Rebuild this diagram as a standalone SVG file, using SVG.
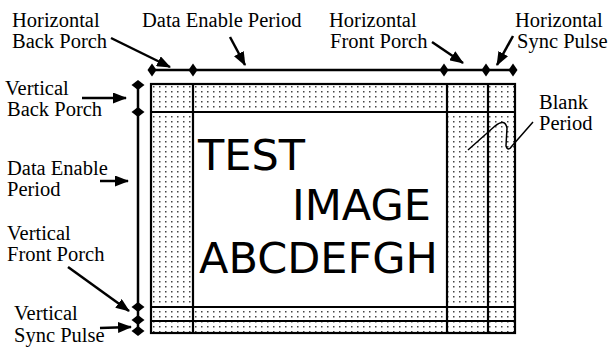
<svg xmlns="http://www.w3.org/2000/svg" width="612" height="347" viewBox="0 0 612 347">
<style>
.lbl{font-family:"Liberation Serif","Times New Roman",serif;font-size:20.5px;fill:#000}
.big{font-family:"DejaVu Sans",Verdana,sans-serif;font-size:43px;fill:#000}
.frame{fill:none;stroke:#000;stroke-width:2.2}
.conn{fill:none;stroke:#000;stroke-width:2.5}
.dim{fill:none;stroke:#000;stroke-width:2.5}
</style>
<defs>
<pattern id="dots" x="151" y="84" width="6" height="5" patternUnits="userSpaceOnUse">
<rect width="6" height="5" fill="#fff"/>
<rect x="2" y="2" width="1.5" height="1.5" fill="#444"/>
</pattern>
<marker id="ah" viewBox="0 0 14 11" refX="13" refY="5.5" markerWidth="14" markerHeight="11" markerUnits="userSpaceOnUse" orient="auto">
<path d="M0,0 L14,5.5 L0,11 z" fill="#000"/>
</marker>
<polygon id="dh" points="0,-6.5 4.5,0 0,6.5 -4.5,0" fill="#000"/>
<polygon id="dv" points="-6.5,0 0,-5 6.5,0 0,5" fill="#000"/>
</defs>

<g id="frame">
<rect x="151" y="84" width="364" height="249" fill="url(#dots)"/>
<rect x="193" y="112" width="254" height="195" fill="#fff"/>
<rect x="151" y="84" width="364" height="249" class="frame"/>
<line x1="193" y1="84" x2="193" y2="333" class="frame"/>
<line x1="447" y1="84" x2="447" y2="333" class="frame"/>
<line x1="488" y1="84" x2="488" y2="333" class="frame"/>
<line x1="151" y1="112" x2="515" y2="112" class="frame"/>
<line x1="151" y1="307" x2="515" y2="307" class="frame"/>
<line x1="151" y1="321" x2="515" y2="321" class="frame"/>
</g>

<g id="test-image">
<text class="big" x="198" y="170">TEST</text>
<text class="big" x="292" y="220">IMAGE</text>
<text class="big" x="199" y="273">ABCDEFGH</text>
</g>

<g id="h-dimension">
<line x1="152" y1="70" x2="513" y2="70" class="dim"/>
<use href="#dh" x="152" y="70"/>
<use href="#dh" x="193" y="70"/>
<use href="#dh" x="444" y="70"/>
<use href="#dh" x="486" y="70"/>
<use href="#dh" x="513" y="70"/>
</g>

<g id="v-dimension">
<line x1="138" y1="85" x2="138" y2="331" class="dim"/>
<use href="#dv" x="138" y="85"/>
<use href="#dv" x="138" y="112"/>
<use href="#dv" x="138" y="307"/>
<use href="#dv" x="138" y="320"/>
<use href="#dv" x="138" y="331"/>
</g>

<g id="label-hbp">
<text class="lbl" x="12" y="27">Horizontal</text>
<text class="lbl" x="12" y="48">Back Porch</text>
</g>
<g id="label-hdep">
<text class="lbl" x="142" y="27">Data Enable Period</text>
</g>
<g id="label-hfp">
<text class="lbl" x="329" y="27">Horizontal</text>
<text class="lbl" x="330" y="48">Front Porch</text>
</g>
<g id="label-hsp">
<text class="lbl" x="515" y="27">Horizontal</text>
<text class="lbl" x="517" y="48">Sync Pulse</text>
</g>
<g id="label-vbp">
<text class="lbl" x="5" y="95">Vertical</text>
<text class="lbl" x="7" y="116">Back Porch</text>
</g>
<g id="label-vdep">
<text class="lbl" x="7" y="175">Data Enable</text>
<text class="lbl" x="7" y="196">Period</text>
</g>
<g id="label-vfp">
<text class="lbl" x="7" y="240">Vertical</text>
<text class="lbl" x="7" y="261">Front Porch</text>
</g>
<g id="label-vsp">
<text class="lbl" x="14" y="320">Vertical</text>
<text class="lbl" x="14" y="342">Sync Pulse</text>
</g>
<g id="label-blank">
<text class="lbl" x="539" y="109">Blank</text>
<text class="lbl" x="539" y="130">Period</text>
</g>

<g id="connectors">
<line x1="111" y1="38" x2="170" y2="67" class="conn" marker-end="url(#ah)"/>
<line x1="230" y1="37" x2="245" y2="65" class="conn" marker-end="url(#ah)"/>
<line x1="432" y1="42" x2="463" y2="63" class="conn" marker-end="url(#ah)"/>
<line x1="513" y1="36" x2="497" y2="65" class="conn" marker-end="url(#ah)"/>
<line x1="82" y1="98" x2="126" y2="98" class="conn" marker-end="url(#ah)"/>
<line x1="100" y1="181" x2="128" y2="181" class="conn" marker-end="url(#ah)"/>
<line x1="68" y1="267" x2="129" y2="311" class="conn" marker-end="url(#ah)"/>
<line x1="100" y1="328" x2="131" y2="327" class="conn" marker-end="url(#ah)"/>
<path d="M468,150 L495,126 Q505,118 507,128 L506,146 Q508,152 512,146 L533,122" fill="none" stroke="#000" stroke-width="1.5"/>
</g>
</svg>
